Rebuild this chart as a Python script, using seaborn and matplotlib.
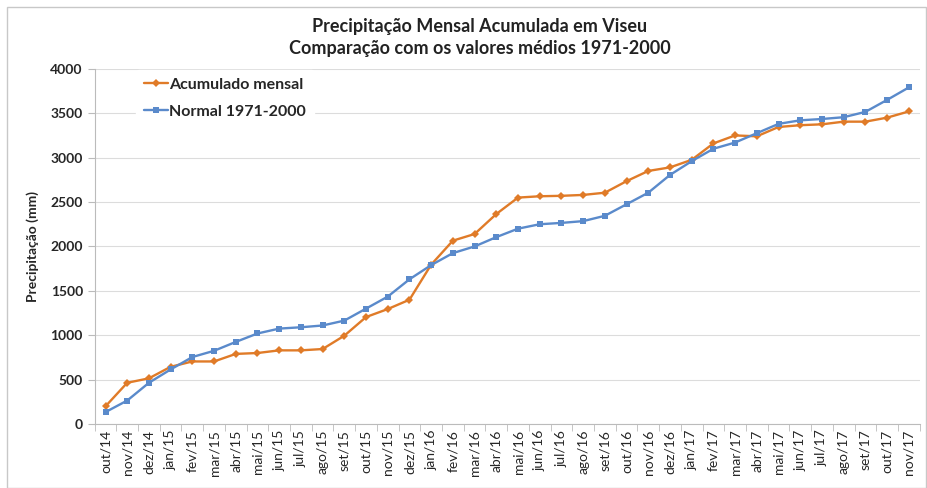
import matplotlib
matplotlib.use("Agg")
import matplotlib.pyplot as plt
import matplotlib.patches as patches
import pandas as pd
import seaborn as sns

meses = ['out/14', 'nov/14', 'dez/14', 'jan/15', 'fev/15', 'mar/15', 'abr/15', 'mai/15',
         'jun/15', 'jul/15', 'ago/15', 'set/15', 'out/15', 'nov/15', 'dez/15', 'jan/16',
         'fev/16', 'mar/16', 'abr/16', 'mai/16', 'jun/16', 'jul/16', 'ago/16', 'set/16',
         'out/16', 'nov/16', 'dez/16', 'jan/17', 'fev/17', 'mar/17', 'abr/17', 'mai/17',
         'jun/17', 'jul/17', 'ago/17', 'set/17', 'out/17', 'nov/17']

acumulado = [200, 465, 515, 645, 705, 705, 790, 800, 830, 830, 845, 995, 1205, 1295, 1400,
             1795, 2065, 2140, 2365, 2550, 2565, 2570, 2580, 2605, 2735, 2850, 2890, 2975,
             3160, 3250, 3240, 3345, 3365, 3375, 3405, 3405, 3450, 3520]

normal = [135, 265, 465, 615, 755, 825, 925, 1020, 1075, 1090, 1110, 1165, 1300, 1435, 1630,
          1790, 1925, 2000, 2105, 2200, 2250, 2265, 2285, 2345, 2475, 2605, 2805, 2960,
          3100, 3170, 3275, 3380, 3420, 3435, 3455, 3515, 3650, 3790]

df = pd.DataFrame({'pos': list(range(len(meses))) * 2,
                   'valor': acumulado + normal,
                   'serie': ['Acumulado mensal'] * len(meses) + ['Normal 1971-2000'] * len(meses)})

sns.set_style('white')
plt.rcParams['font.family'] = ['Lato', 'DejaVu Sans']

fig = plt.figure(figsize=(9.28, 4.88), dpi=100)
ax = fig.add_axes([0.102, 0.131, 0.889, 0.728])

cores = {'Acumulado mensal': '#E07B28', 'Normal 1971-2000': '#5A8ACB'}
marcas = {'Acumulado mensal': 'D', 'Normal 1971-2000': 's'}
sns.lineplot(data=df, x='pos', y='valor', hue='serie', style='serie', palette=cores,
             markers=marcas, dashes=False, markersize=4, linewidth=1.7,
             markeredgewidth=0, ax=ax)

ax.set_ylim(0, 4000)
ax.set_yticks(range(0, 4001, 500))
ax.set_xlim(-0.5, len(meses) - 0.5)
ax.set_xticks(range(len(meses)))
ax.set_xticklabels(meses, rotation=90, fontsize=10)
ax.set_xticks([i - 0.5 for i in range(len(meses) + 1)], minor=True)
ax.tick_params(axis='x', which='major', length=0, pad=4)
ax.tick_params(axis='x', which='minor', length=5, color='#BBBBBB', direction='out', bottom=True)
ax.tick_params(axis='y', labelsize=10, length=5, color='#BBBBBB', left=True)
for lab in ax.get_yticklabels():
    lab.set_fontweight('bold')
ax.grid(axis='y', color='#DCDCDC', linewidth=0.8)
ax.set_axisbelow(True)
for s in ['top', 'right']:
    ax.spines[s].set_visible(False)
ax.spines['left'].set_color('#BBBBBB')
ax.spines['bottom'].set_color('#BBBBBB')
ax.set_xlabel('')
ax.set_ylabel('Precipitação (mm)', fontsize=10, fontweight='bold', labelpad=8)

leg = ax.legend(loc='upper left', bbox_to_anchor=(0.04, 1.02), frameon=True, fontsize=11.5,
                handlelength=1.5, handletextpad=0.1, labelspacing=0.8, borderpad=0.5)
leg.get_frame().set_facecolor('white')
leg.get_frame().set_edgecolor('white')
leg.get_frame().set_alpha(1)
for t in leg.get_texts():
    t.set_fontweight('bold')

fig.text(0.517, 0.945, 'Precipitação Mensal Acumulada em Viseu', ha='center', va='center',
         fontsize=13, fontweight='bold', color='#222222')
fig.text(0.517, 0.900, 'Comparação com os valores médios 1971-2000', ha='center', va='center',
         fontsize=13, fontweight='bold', color='#222222')

fig.patches.append(patches.Rectangle((0.008, 0.0), 0.99, 0.985, transform=fig.transFigure,
                                     fill=False, edgecolor='#C8C8C8', linewidth=1))

fig.savefig('out.png', dpi=100)
